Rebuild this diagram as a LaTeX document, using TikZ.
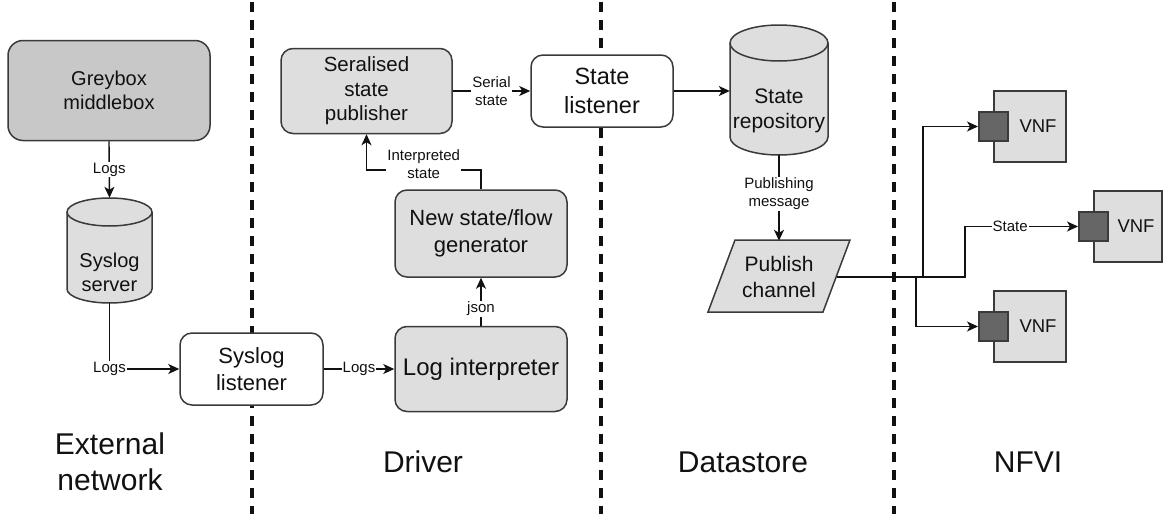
\documentclass[tikz,border=0pt]{standalone}
\usepackage{fontspec}
\setmainfont{Liberation Sans}
\usetikzlibrary{arrows.meta}
\definecolor{boxgrey}{HTML}{DEDEDE}
\definecolor{darkgrey}{HTML}{C8C8C8}
\definecolor{portgrey}{HTML}{666666}
\definecolor{edgeline}{HTML}{3A3A3A}
\definecolor{ink}{HTML}{111111}
\newcommand\setfsz[1]{\fontsize{#1}{\dimexpr #1pt*6/5\relax}\selectfont}

\begin{document}
\begin{tikzpicture}[x=1pt,y=-1pt,
  rbox/.style={draw=edgeline, line width=1.5pt, rounded corners=12pt, align=center,
               inner sep=0pt, text=ink},
  greybox/.style={rbox, fill=boxgrey},
  whitebox/.style={rbox, fill=white},
  shapebody/.style={draw=edgeline, line width=1.5pt, fill=boxgrey},
  anchorbox/.style={draw=none, inner sep=0pt},
  conn/.style={draw=ink, line width=1.4pt, -{Stealth[length=11pt,width=10pt,inset=3pt]}},
  lbl/.style={fill=white, inner sep=1pt, align=center, font=\setfsz{15}, text=ink},
  divider/.style={draw=ink, line width=3.4pt, dash pattern=on 10pt off 8pt},
  zone/.style={font=\setfsz{30}, align=center, text=ink},
  vnfbox/.style={draw=edgeline, line width=1.5pt, fill=boxgrey, inner sep=0pt,
                 minimum height=71pt, font=\setfsz{18.5}, text=ink},
  port/.style={draw=edgeline, line width=1.5pt, fill=portgrey, minimum width=29pt,
               minimum height=29pt, inner sep=0pt}
]
\useasboundingbox (0,0) rectangle (1163,514);
\fill[white] (0,0) rectangle (1163,514);

% zone separators
\draw[divider] (252,2) -- (252,514);
\draw[divider] (601,2) -- (601,514);
\draw[divider] (894,2) -- (894,514);

% external network
\node[rbox, fill=darkgrey, rounded corners=15pt, minimum width=202pt, minimum height=100pt,
      font=\setfsz{20}] (gb) at (109,90.5) {Greybox\\middlebox};

\filldraw[shapebody] (67,212) -- (67,289)
  arc[start angle=180, end angle=360, x radius=42.5pt, y radius=14pt] -- (152,212)
  arc[start angle=0, end angle=180, x radius=42.5pt, y radius=14pt] -- cycle;
\draw[draw=edgeline, line width=1.5pt] (67,212)
  arc[start angle=180, end angle=360, x radius=42.5pt, y radius=14pt];
\node[anchorbox, minimum width=85pt, minimum height=105pt,
      label={[font=\setfsz{20}, align=center, text=ink, yshift=-22pt]center:Syslog\\server}]
      (ss) at (109.5,250.5) {};

% driver
\node[whitebox, minimum width=143pt, minimum height=72pt, font=\setfsz{22}] (sl) at (251.5,369) {Syslog\\listener};
\node[greybox, minimum width=172pt, minimum height=85pt, font=\setfsz{24}] (li) at (481,369) {Log interpreter};
\node[greybox, minimum width=172pt, minimum height=87pt, font=\setfsz{22}] (ng) at (481,233.5) {New state/flow\\generator};
\node[greybox, minimum width=171pt, minimum height=85pt, font=\setfsz{20.5}] (sp) at (366.5,91) {Seralised\\state\\publisher};

% datastore
\node[whitebox, minimum width=142pt, minimum height=72pt, font=\setfsz{23.5}] (st) at (602,91) {State\\listener};

\filldraw[shapebody] (730,43) -- (730,137)
  arc[start angle=180, end angle=360, x radius=49pt, y radius=18pt] -- (828,43)
  arc[start angle=0, end angle=180, x radius=49pt, y radius=18pt] -- cycle;
\draw[draw=edgeline, line width=1.5pt] (730,43)
  arc[start angle=180, end angle=360, x radius=49pt, y radius=18pt];
\node[anchorbox, minimum width=98pt, minimum height=130pt,
      label={[font=\setfsz{21}, align=center, text=ink, yshift=-21pt]center:State\\repository}]
      (sr) at (779,90) {};

\filldraw[shapebody] (735,240) -- (850,240) -- (823,312) -- (708,312) -- cycle;
\node[anchorbox, minimum width=115pt, minimum height=72pt, align=center, text=ink,
      font=\setfsz{21}] (pc) at (779,277) {Publish\\channel};

% NFVI
\node[vnfbox, minimum width=72pt] (v1) at (1030,126.5) {\hspace*{16pt}VNF};
\node[vnfbox, minimum width=68pt] (v2) at (1128,226.5) {\hspace*{16pt}VNF};
\node[vnfbox, minimum width=72pt] (v3) at (1030,326.5) {\hspace*{16pt}VNF};
\node[port] (p1) at (v1.west) {};
\node[port] (p2) at (v2.west) {};
\node[port] (p3) at (v3.west) {};

% connectors
\draw[conn] (gb.south) -- node[lbl]{Logs} (ss.north);
\draw[conn] (ss.south) |- node[lbl, pos=0.5]{Logs} (sl.west);
\draw[conn] (sl.east) -- node[lbl]{Logs} (li.west);
\draw[conn] (li.north) -- node[lbl, pos=0.35]{json} (ng.south);
\coordinate (ngup) at (481,170);
\draw[conn] (ng.north) -- (ngup) -| node[lbl, pos=0.25, yshift=6pt]{Interpreted\\state} (sp.south);
\draw[conn] (sp.east) -- node[lbl]{Serial\\state} (st.west);
\draw[conn] (st.east) -- (sr.west |- st.east);
\draw[conn] (sr.south) -- node[lbl, pos=0.45]{Publishing\\message} (pc.north);

\coordinate (b1) at (923,277);
\coordinate (b2) at (965,277);
\coordinate (b3) at (916,277);
\draw[conn] (pc.east) -- (b1) |- (p1.west);
\draw[conn] (pc.east) -- (b2) |- node[lbl, pos=0.7]{State} (p2.west);
\draw[conn] (pc.east) -- (b3) |- (p3.west);

% zone titles
\node[zone] (zext) at (110,462) {External\\network};
\node[zone] (zdrv) at (423,462) {Driver};
\node[zone] (zdat) at (743,462) {Datastore};
\node[zone] (znfv) at (1028,462) {NFVI};
\end{tikzpicture}
\end{document}
